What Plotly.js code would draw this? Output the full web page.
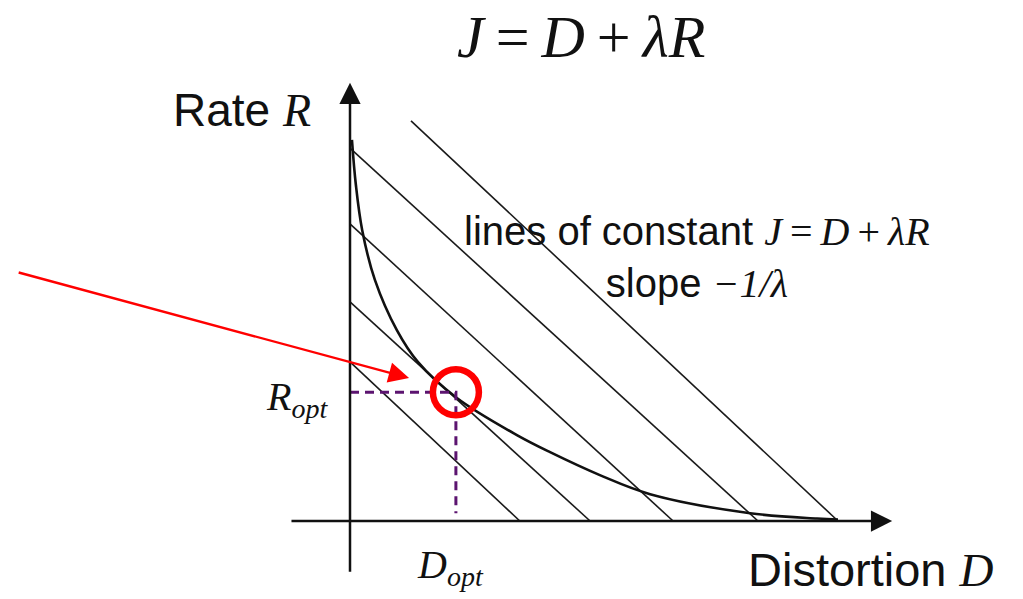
<!DOCTYPE html>
<html>
<head>
<meta charset="utf-8">
<script src="https://cdn.plot.ly/plotly-3.0.1.min.js"></script>
<style>
  html, body { margin: 0; padding: 0; background: #fff; }
  #chart { width: 1023px; height: 599px; }
</style>
</head>
<body>
<div id="chart"></div>
<script>
// Rate–distortion curve with iso-cost lines J = D + λR (arbitrary units)
const curveD = [0.04, 0.12, 0.25, 0.51, 0.96, 1.39, 2.19, 3.42, 4.10, 5.12, 6.15, 8.20, 9.57, 10.0];
const curveR = [7.81, 6.89, 5.96, 4.94, 3.91, 3.26, 2.52, 1.76, 1.41, 0.94, 0.55, 0.16, 0.05, 0.03];

// Lines of constant J (start and end points)
const jStartD = [0, 0, 0, 0, 1.25];
const jStartR = [3.26, 4.49, 6.09, 7.64, 8.20];
const jEndD   = [3.48, 4.92, 6.62, 8.36, 10.0];
const jEndR   = [0, 0, 0, 0, 0];

// Optimal operating point
const dOpt = 2.17;
const rOpt = 2.64;
const guideEndR = 0.16;

// Axis extents and pointer arrow
const dAxis = [-1.23, 11.11];
const rAxis = [-1.07, 8.98];
const pointerTail = [-6.82, 5.10];
const pointerTip  = [1.21, 2.93];

// Layout scale: pixels per unit, and pixel position of the origin
const W = 1023, H = 599, S = 48.8, OX = 350, OY = 521;

const SERIF = "'Liberation Serif', 'Times New Roman', serif";
const SANS = "'Liberation Sans', Arial, sans-serif";
const ser = t => `<span style="font-family:${SERIF}">${t}</span>`;
const TS = '\u2009'; // thin space around operators

const traces = [];

// iso-cost lines
for (let i = 0; i < jStartD.length; i++) {
  traces.push({
    x: [jStartD[i], jEndD[i]], y: [jStartR[i], jEndR[i]],
    mode: 'lines', line: {color: '#1a1a1a', width: 1.6},
    hoverinfo: 'skip'
  });
}

// R(D) curve
traces.push({
  x: curveD, y: curveR, mode: 'lines',
  line: {color: '#111', width: 2.6, shape: 'spline', smoothing: 1},
  hoverinfo: 'skip'
});

// dashed guides to the optimum
traces.push({
  x: [0, dOpt, dOpt], y: [rOpt, rOpt, guideEndR], mode: 'lines',
  line: {color: '#5c1470', width: 3, dash: '9px,6px'},
  hoverinfo: 'skip'
});

// red ring at the optimum
traces.push({
  x: [dOpt], y: [rOpt], mode: 'markers',
  marker: {symbol: 'circle', size: 46, color: 'rgba(0,0,0,0)',
           line: {color: '#ff0000', width: 6.5}},
  hoverinfo: 'skip'
});

const arrow = (tail, tip, color, width, size) => ({
  x: tip[0], y: tip[1], ax: tail[0], ay: tail[1],
  xref: 'x', yref: 'y', axref: 'x', ayref: 'y',
  text: '', showarrow: true, arrowhead: 2, arrowsize: size,
  arrowwidth: width, arrowcolor: color, standoff: 0
});

const label = (x, y, text, size, font, extra) => Object.assign({
  x, y, xref: 'x', yref: 'y', text, showarrow: false,
  font: {family: font, size, color: '#111'}
}, extra || {});

const annotations = [
  // axes with arrowheads
  arrow([0, rAxis[0]], [0, rAxis[1]], '#111', 2.5, 1.7),
  arrow([dAxis[0], 0], [dAxis[1], 0], '#111', 2.5, 1.7),
  // pointer to the optimum
  arrow(pointerTail, pointerTip, '#ff0000', 2.4, 1.7),

  label(4.73, 9.92, `<i>J</i>${TS}=${TS}<i>D</i>${TS}+${TS}<i>λR</i>`, 60, SERIF),
  label(-2.21, 8.42, 'Rate ' + ser('<i>R</i>'), 46, SANS),
  label(7.11, 5.4, 'lines of constant ' +
        ser(`<i>J</i>${TS}=${TS}<i>D</i>${TS}+${TS}<i>λR</i>`) +
        '<br>slope ' + ser('<i>−1/λ</i>'), 40, SANS, {align: 'center'}),
  label(-1.09, 2.5, '<i>R</i><sub><i>opt</i></sub>', 40, SERIF),
  label(2.05, -0.95, '<i>D</i><sub><i>opt</i></sub>', 40, SERIF),
  label(10.68, -1.0, 'Distortion ' + ser('<i>D</i>'), 47, SANS)
];

const layout = {
  width: W, height: H,
  margin: {l: 0, r: 0, t: 0, b: 0, pad: 0},
  paper_bgcolor: '#fff', plot_bgcolor: '#fff',
  showlegend: false,
  xaxis: {range: [-OX / S, (W - OX) / S], visible: false, fixedrange: true},
  yaxis: {range: [-(H - OY) / S, OY / S], visible: false, fixedrange: true},
  annotations
};

Plotly.newPlot('chart', traces, layout, {displayModeBar: false, staticPlot: true});
</script>
</body>
</html>
